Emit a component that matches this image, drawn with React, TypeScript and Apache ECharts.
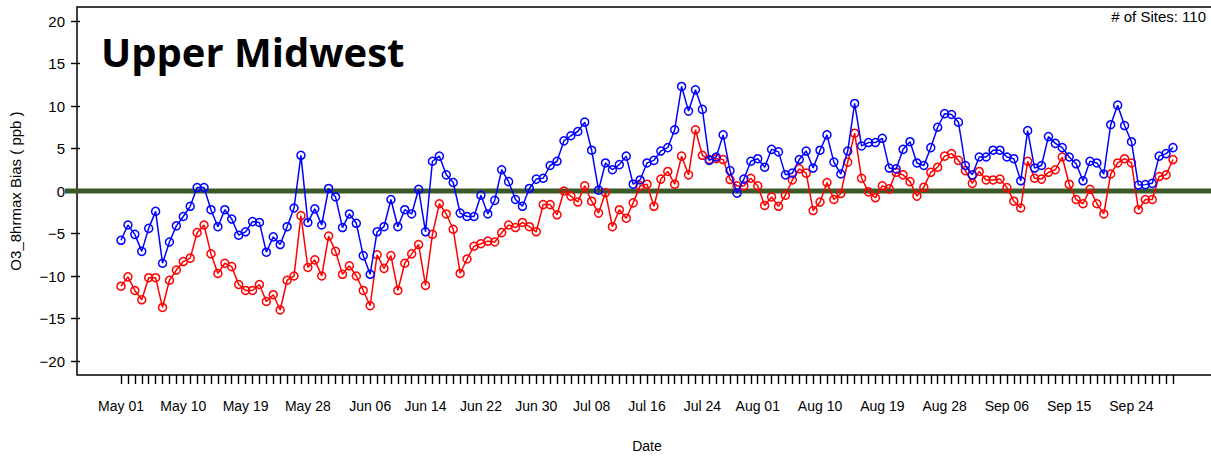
import React, { useEffect, useRef } from "react";
import * as echarts from "echarts";

const monthDays: [string, number][] = [
  ["May", 31],
  ["Jun", 30],
  ["Jul", 31],
  ["Aug", 31],
  ["Sep", 30],
];
const dates: string[] = [];
for (const [m, n] of monthDays) {
  for (let d = 1; d <= n; d++) dates.push(`${m} ${String(d).padStart(2, "0")}`);
}

const tickLabels = [
  "May 01", "May 10", "May 19", "May 28", "Jun 06", "Jun 14", "Jun 22", "Jun 30",
  "Jul 08", "Jul 16", "Jul 24", "Aug 01", "Aug 10", "Aug 19", "Aug 28", "Sep 06",
  "Sep 15", "Sep 24",
];

const yTicks = { min: -20, max: 20, step: 5 };

const blueBias = [
  -5.8, -4.0, -5.1, -7.1, -4.4, -2.4, -8.5, -6.0, -4.1, -3.0, -1.8, 0.4, 0.4, -2.2, -4.2, -2.2,
  -3.3, -5.2, -4.8, -3.6, -3.7, -7.2, -5.4, -6.3, -4.2, -2.0, 4.2, -3.7, -2.1, -4.0, 0.3, -0.7,
  -4.3, -2.7, -3.8, -7.6, -9.8, -4.8, -4.2, -1.0, -4.2, -2.2, -2.7, 0.2, -4.8, 3.5, 4.1, 1.9,
  1.0, -2.6, -3.0, -3.0, -0.5, -2.7, -1.1, 2.5, 1.1, -1.0, -1.8, 0.3, 1.4, 1.5, 3.0, 3.5,
  5.9, 6.5, 7.0, 8.1, 4.8, 0.1, 3.3, 2.5, 3.1, 4.1, 0.8, 1.3, 3.3, 3.6, 4.7, 5.1,
  7.2, 12.3, 9.4, 11.9, 9.6, 3.6, 4.0, 6.6, 2.4, -0.25, 1.4, 3.5, 3.8, 2.8, 4.9, 4.6,
  1.9, 2.1, 3.7, 4.7, 2.7, 4.8, 6.6, 3.4, 2.0, 4.7, 10.3, 5.3, 5.7, 5.7, 6.2, 2.7,
  2.6, 4.9, 5.8, 3.3, 3.0, 5.1, 7.5, 9.1, 9.0, 8.1, 3.0, 1.9, 4.0, 4.0, 4.8, 4.8,
  4.0, 3.8, 1.2, 7.1, 2.7, 3.0, 6.4, 5.6, 5.1, 4.0, 3.2, 1.2, 3.5, 3.3, 2.0, 7.8,
  10.1, 7.7, 5.8, 0.7, 0.75, 0.9, 4.1, 4.4, 5.1,
];

const redBias = [
  -11.2, -10.1, -11.7, -12.8, -10.2, -10.2, -13.7, -10.5, -9.3, -8.3, -7.9, -4.9, -4.0, -7.4, -9.7, -8.5,
  -8.9, -11.0, -11.7, -11.7, -11.0, -13.0, -12.2, -14.0, -10.5, -10.0, -2.9, -9.0, -8.1, -10.0, -5.3, -7.1,
  -9.8, -8.8, -10.0, -11.7, -13.5, -7.5, -9.1, -7.6, -11.7, -8.5, -7.4, -6.3, -11.1, -5.1, -1.5, -2.7,
  -4.5, -9.7, -8.0, -6.5, -6.2, -5.9, -6.0, -4.9, -4.0, -4.3, -3.7, -4.2, -4.8, -1.6, -1.6, -2.8,
  0.0, -0.6, -1.3, 0.6, -1.2, -2.6, -0.2, -4.2, -2.2, -3.2, -1.4, 0.6, 0.8, -1.8, 1.4, 2.3,
  0.8, 4.1, 1.9, 7.2, 4.2, 3.7, 3.8, 3.7, 1.35, 0.6, 0.6, 1.5, 0.6, -1.7, -0.7, -1.8,
  -0.5, 1.3, 2.6, 2.1, -2.3, -1.3, 1.0, -1.0, -0.3, 3.4, 6.8, 1.5, -0.1, -0.8, 0.6, 0.25,
  2.2, 1.9, 1.1, -0.6, 0.45, 2.2, 2.8, 4.1, 4.4, 3.6, 2.4, 0.9, 2.3, 1.3, 1.3, 1.4,
  0.4, -1.2, -2.0, 3.5, 1.5, 1.4, 2.2, 2.5, 4.0, 0.8, -1.0, -1.5, 0.2, -1.5, -2.7, 2.0,
  3.3, 3.8, 3.3, -2.2, -1.0, -1.0, 1.7, 1.9, 3.7,
];

const FONT = "Liberation Sans";

export default function App() {
  const ref = useRef<HTMLDivElement>(null);
  useEffect(() => {
    if (!ref.current) return;
    const chart = echarts.init(ref.current, undefined, { renderer: "svg" });
    const mkSeries = (data: number[], color: string, z: number) => ({
      type: "line",
      data,
      symbol: "circle",
      symbolSize: 8,
      showSymbol: true,
      showAllSymbol: true,
      z,
      lineStyle: { color, width: 1.5 },
      itemStyle: { color: "rgba(0,0,0,0)", borderColor: color, borderWidth: 1.5 },
      emphasis: { disabled: true },
    });
    chart.setOption({
      animation: false,
      backgroundColor: "#ffffff",
      grid: { left: 118, right: 38, top: 21, bottom: 99 },
      xAxis: {
        type: "category",
        data: dates,
        boundaryGap: false,
        offset: 14,
        axisLine: { show: false, onZero: false },
        axisTick: { show: true, interval: 0, length: 9, lineStyle: { color: "#000", width: 1.4 } },
        axisLabel: {
          interval: (_i: number, v: string) => tickLabels.includes(v),
          margin: 24,
          color: "#000",
          fontSize: 14,
          fontFamily: FONT,
        },
        splitLine: { show: false },
        name: "Date",
        nameLocation: "middle",
        nameGap: 64,
        nameTextStyle: { color: "#000", fontSize: 14, fontFamily: FONT },
      },
      yAxis: {
        type: "value",
        min: yTicks.min,
        max: yTicks.max,
        interval: yTicks.step,
        offset: 41,
        axisLine: { show: false, onZero: false },
        axisTick: { show: true, length: 9, lineStyle: { color: "#000", width: 1.4 } },
        axisLabel: {
          margin: 15,
          color: "#000",
          fontSize: 15,
          fontFamily: FONT,
          formatter: (v: number) => String(v).replace("-", "\u2212"),
        },
        splitLine: { show: false },
        name: "O3_8hrmax Bias ( ppb )",
        nameLocation: "middle",
        nameGap: 57,
        nameRotate: 90,
        nameTextStyle: { color: "#000", fontSize: 15, fontFamily: FONT },
      },
      series: [mkSeries(redBias, "#ff0000", 3), mkSeries(blueBias, "#0000ff", 4)],
    });
    const y0 = chart.convertToPixel({ yAxisIndex: 0 }, 0) as number;
    chart.setOption({
      graphic: [
        {
          type: "polyline",
          z: 1,
          silent: true,
          shape: { points: [[1211, 7], [77, 7], [77, 375], [1211, 375]] },
          style: { stroke: "#000", lineWidth: 1.5, fill: null },
        },
        {
          type: "line",
          z: 1,
          silent: true,
          shape: { x1: 65, y1: y0, x2: 1211, y2: y0 },
          style: { stroke: "#3c5a28", lineWidth: 5 },
        },
        {
          type: "text",
          z: 5,
          x: 101,
          y: 51,
          style: {
            text: "Upper Midwest",
            font: "bold 40px 'Open Sans'",
            fill: "#000",
            align: "left",
            verticalAlign: "middle",
          },
        },
        {
          type: "text",
          z: 5,
          x: 1206,
          y: 16,
          style: {
            text: "# of Sites: 110",
            font: `15px '${FONT}'`,
            fill: "#000",
            align: "right",
            verticalAlign: "middle",
          },
        },
      ],
    });
    return () => chart.dispose();
  }, []);
  return (
    <div
      ref={ref}
      style={{ position: "absolute", left: 0, top: 0, width: 1211, height: 460 }}
    />
  );
}
